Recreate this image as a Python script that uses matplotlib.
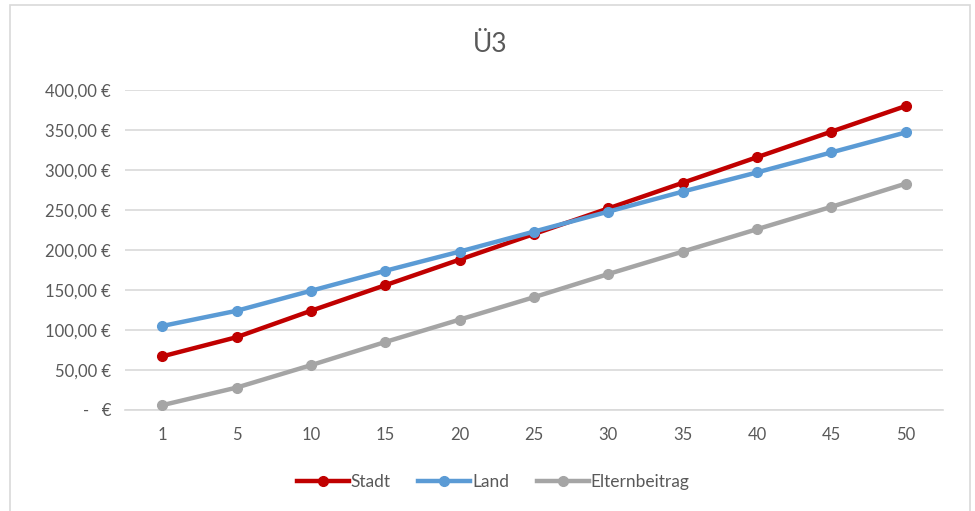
import numpy as np
import matplotlib.pyplot as plt
from matplotlib.patches import Rectangle

plt.rcParams['font.family'] = ['Lato', 'DejaVu Sans']

kategorien = ['1', '5', '10', '15', '20', '25', '30', '35', '40', '45', '50']
stadt = [67, 91, 124, 156, 188, 220, 252, 284, 316, 348, 380]
land = [105, 124, 149, 174, 198, 223, 248, 273, 297, 322, 347]
elternbeitrag = [6, 28, 56, 85, 113, 141, 170, 198, 226, 254, 283]

fig = plt.figure(figsize=(9.75, 5.11), dpi=100)
fig.patches.append(Rectangle((10/975, -0.01), 960/975, 1 - 5/511 + 0.01, transform=fig.transFigure,
                             fill=False, edgecolor='#D9D9D9', linewidth=1.2))
ax = fig.add_axes([125/975, 1 - 410/511, 818/975, 320/511])

x = np.arange(len(kategorien))
ax.plot(x, stadt, color='#C00000', lw=3.2, marker='o', ms=7, label='Stadt', zorder=3)
ax.plot(x, land, color='#5B9BD5', lw=3.2, marker='o', ms=7, label='Land', zorder=4)
ax.plot(x, elternbeitrag, color='#A5A5A5', lw=3.2, marker='o', ms=7, label='Elternbeitrag', zorder=3)

ax.set_xlim(-0.5, len(kategorien) - 0.5)
ax.set_ylim(0, 400)
ax.set_yticks(np.arange(0, 401, 50))
ax.set_yticklabels(['-   €' if v == 0 else f'{v:.2f}'.replace('.', ',') + ' €' for v in range(0, 401, 50)])
ax.set_xticks(x)
ax.set_xticklabels(kategorien)
ax.grid(axis='y', color='#D9D9D9', lw=1.2)
ax.set_axisbelow(True)
for s in ['top', 'right', 'left']:
    ax.spines[s].set_visible(False)
ax.spines['bottom'].set_color('#D9D9D9')
ax.spines['bottom'].set_linewidth(1.2)
ax.tick_params(axis='both', length=0, labelsize=12, labelcolor='#595959')
ax.tick_params(axis='y', pad=10)
ax.tick_params(axis='x', pad=12)

fig.text(490/975, 1 - 45/511, 'Ü3', ha='center', va='center', fontsize=19, color='#595959')
fig.legend(loc='center', bbox_to_anchor=(493/975, 1 - 482/511), ncol=3, frameon=False,
           fontsize=12.5, handlelength=3, handletextpad=0.1, columnspacing=1.6, labelcolor='#595959')

fig.savefig('out.png', dpi=100)
